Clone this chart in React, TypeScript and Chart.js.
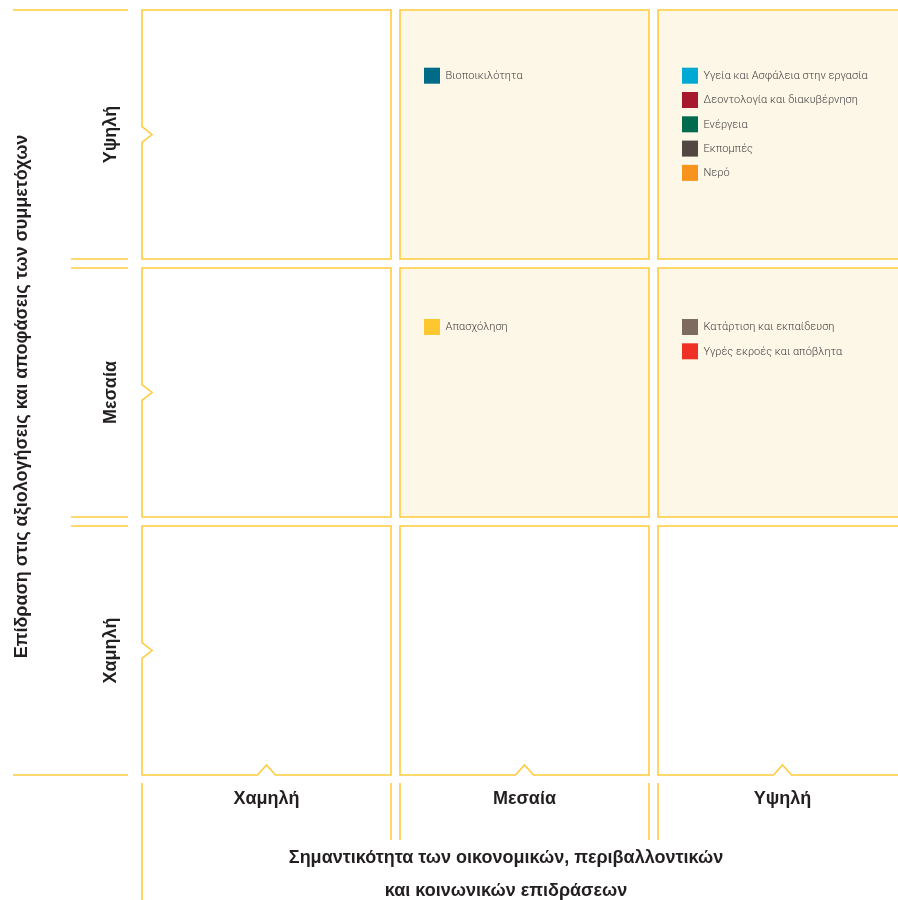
import React, { useEffect, useRef } from "react";
import { Chart, registerables } from "chart.js";

Chart.register(...registerables);

// Levels (index 0 = low, 1 = medium, 2 = high)
const levelLabels = ["Χαμηλή", "Μεσαία", "Υψηλή"];
const xTitleLines = ["Σημαντικότητα των οικονομικών, περιβαλλοντικών", "και κοινωνικών επιδράσεων"];
const yTitle = "Επίδραση στις αξιολογήσεις και αποφάσεις των συμμετόχων";

// Topics with their placement in the matrix
const topics = [
  "Βιοποικιλότητα",
  "Υγεία και Ασφάλεια στην εργασία",
  "Δεοντολογία και διακυβέρνηση",
  "Ενέργεια",
  "Εκπομπές",
  "Νερό",
  "Απασχόληση",
  "Κατάρτιση και εκπαίδευση",
  "Υγρές εκροές και απόβλητα",
];
const importanceLevel = [1, 2, 2, 2, 2, 2, 1, 2, 2]; // x: economic/env/social impact
const stakeholderLevel = [2, 2, 2, 2, 2, 2, 1, 1, 1]; // y: influence on stakeholders
const topicColors = [
  "#006B87",
  "#00A9D4",
  "#A6192E",
  "#006A4E",
  "#534741",
  "#F7941D",
  "#FDC82F",
  "#7D6B62",
  "#EE3124",
];

const LINE = "#FFCB3D";
const CREAM = "#FDF7E7";
const TEXT = "#231F20";
const BOLD_FONT = "bold 18px 'Liberation Sans', Arial, sans-serif";

const matrixPlugin = {
  id: "matrix",
  beforeDatasetsDraw(chart: any) {
    const { ctx, chartArea } = chart;
    const xs = chart.scales.x;
    const ys = chart.scales.y;
    const gap = 9;
    const half = gap / 2;
    const n = levelLabels.length;

    const cell = (c: number, r: number) => ({
      l: xs.getPixelForValue(c) + half,
      r: xs.getPixelForValue(c + 1) - half,
      t: ys.getPixelForValue(r + 1) + half,
      b: ys.getPixelForValue(r) - half,
    });

    ctx.save();
    // cells
    for (let c = 0; c < n; c++) {
      for (let r = 0; r < n; r++) {
        const k = cell(c, r);
        const has = topics.some((_, i) => importanceLevel[i] === c && stakeholderLevel[i] === r);
        ctx.beginPath();
        ctx.moveTo(k.l, k.t);
        ctx.lineTo(k.r, k.t);
        ctx.lineTo(k.r, k.b);
        if (r === 0) {
          const mx = (k.l + k.r) / 2;
          ctx.lineTo(mx + 9, k.b);
          ctx.lineTo(mx, k.b - 10);
          ctx.lineTo(mx - 9, k.b);
        }
        ctx.lineTo(k.l, k.b);
        if (c === 0) {
          const my = (k.t + k.b) / 2;
          ctx.lineTo(k.l, my + 8);
          ctx.lineTo(k.l + 10, my);
          ctx.lineTo(k.l, my - 8);
        }
        ctx.closePath();
        if (has) {
          ctx.fillStyle = CREAM;
          ctx.fill();
        }
        ctx.strokeStyle = LINE;
        ctx.lineWidth = 1.6;
        ctx.lineJoin = "miter";
        ctx.stroke();
      }
    }

    // left guide lines
    ctx.strokeStyle = LINE;
    ctx.lineWidth = 1.6;
    const lx2 = chartArea.left - 9.5;
    for (let r = 0; r <= n; r++) {
      const p = ys.getPixelForValue(r);
      const ysToDraw: number[] = [];
      if (r === 0) ysToDraw.push(p - half);
      else if (r === n) ysToDraw.push(p + half);
      else ysToDraw.push(p - half, p + half);
      const lx1 = r === 0 || r === n ? chartArea.left - 124.5 : chartArea.left - 66.5;
      ysToDraw.forEach((yy) => {
        ctx.beginPath();
        ctx.moveTo(lx1, yy);
        ctx.lineTo(lx2, yy);
        ctx.stroke();
      });
    }
    // bottom guide lines
    const by1 = chartArea.bottom + 3.5;
    for (let c = 0; c <= n; c++) {
      const p = xs.getPixelForValue(c);
      const xsToDraw: number[] = [];
      if (c === 0) xsToDraw.push(p + half);
      else if (c === n) xsToDraw.push(p - half);
      else xsToDraw.push(p - half, p + half);
      const by2 = c === 0 ? chart.height : chartArea.bottom + 60.5;
      xsToDraw.forEach((xx) => {
        ctx.beginPath();
        ctx.moveTo(xx, by1);
        ctx.lineTo(xx, by2);
        ctx.stroke();
      });
    }

    // level labels
    ctx.fillStyle = TEXT;
    ctx.font = BOLD_FONT;
    ctx.textAlign = "center";
    ctx.textBaseline = "middle";
    for (let c = 0; c < n; c++) {
      ctx.fillText(levelLabels[c], xs.getPixelForValue(c + 0.5), chartArea.bottom + 20);
    }
    for (let r = 0; r < n; r++) {
      ctx.save();
      ctx.translate(chartArea.left - 26.5, ys.getPixelForValue(r + 0.5));
      ctx.rotate(-Math.PI / 2);
      ctx.fillText(levelLabels[r], 0, 0);
      ctx.restore();
    }
    // axis titles
    ctx.save();
    ctx.translate(22.5, (chartArea.top + chartArea.bottom) / 2 + 4);
    ctx.rotate(-Math.PI / 2);
    ctx.fillText(yTitle, 0, 0);
    ctx.restore();
    xTitleLines.forEach((t, i) => {
      ctx.fillText(t, 506, chartArea.bottom + 79 + i * 33);
    });

    // topic markers
    const counts: Record<string, number> = {};
    const topOffset = [51, 51, 57.7];
    ctx.textAlign = "left";
    topics.forEach((name, i) => {
      const c = importanceLevel[i];
      const r = stakeholderLevel[i];
      const key = c + "_" + r;
      const idx = counts[key] || 0;
      counts[key] = idx + 1;
      const k = cell(c, r);
      const sx = k.l + 24;
      const sy = k.t + topOffset[r] + idx * 24.3;
      ctx.fillStyle = topicColors[i];
      ctx.fillRect(sx, sy, 16, 16);
      ctx.fillStyle = "#404040";
      ctx.font = "300 11px Roboto, 'Noto Sans', sans-serif";
      ctx.fillText(name, sx + 21.5, sy + 8.5);
    });
    ctx.restore();
  },
};

export default function App() {
  const ref = useRef<HTMLCanvasElement | null>(null);
  useEffect(() => {
    if (!ref.current) return;
    const chart = new Chart(ref.current, {
      type: "scatter",
      data: {
        datasets: topics.map((t, i) => ({
          label: t,
          data: [{ x: importanceLevel[i] + 0.5, y: stakeholderLevel[i] + 0.5 }],
          backgroundColor: topicColors[i],
          pointRadius: 0,
          pointHoverRadius: 0,
        })),
      },
      options: {
        animation: false,
        responsive: false,
        layout: { padding: { left: 137.5, right: 8.5, top: 5.5, bottom: 120.5 } },
        plugins: { legend: { display: false }, tooltip: { enabled: false } },
        scales: {
          x: { type: "linear", min: 0, max: 3, display: false },
          y: { type: "linear", min: 0, max: 3, display: false },
        },
      },
      plugins: [matrixPlugin],
    });
    return () => chart.destroy();
  }, []);
  return (
    <div style={{ position: "fixed", left: 0, top: 0, width: 898, height: 900, overflow: "hidden", background: "#fff" }}>
      <canvas ref={ref} width={920} height={900} style={{ width: 920, height: 900, display: "block" }} />
    </div>
  );
}
